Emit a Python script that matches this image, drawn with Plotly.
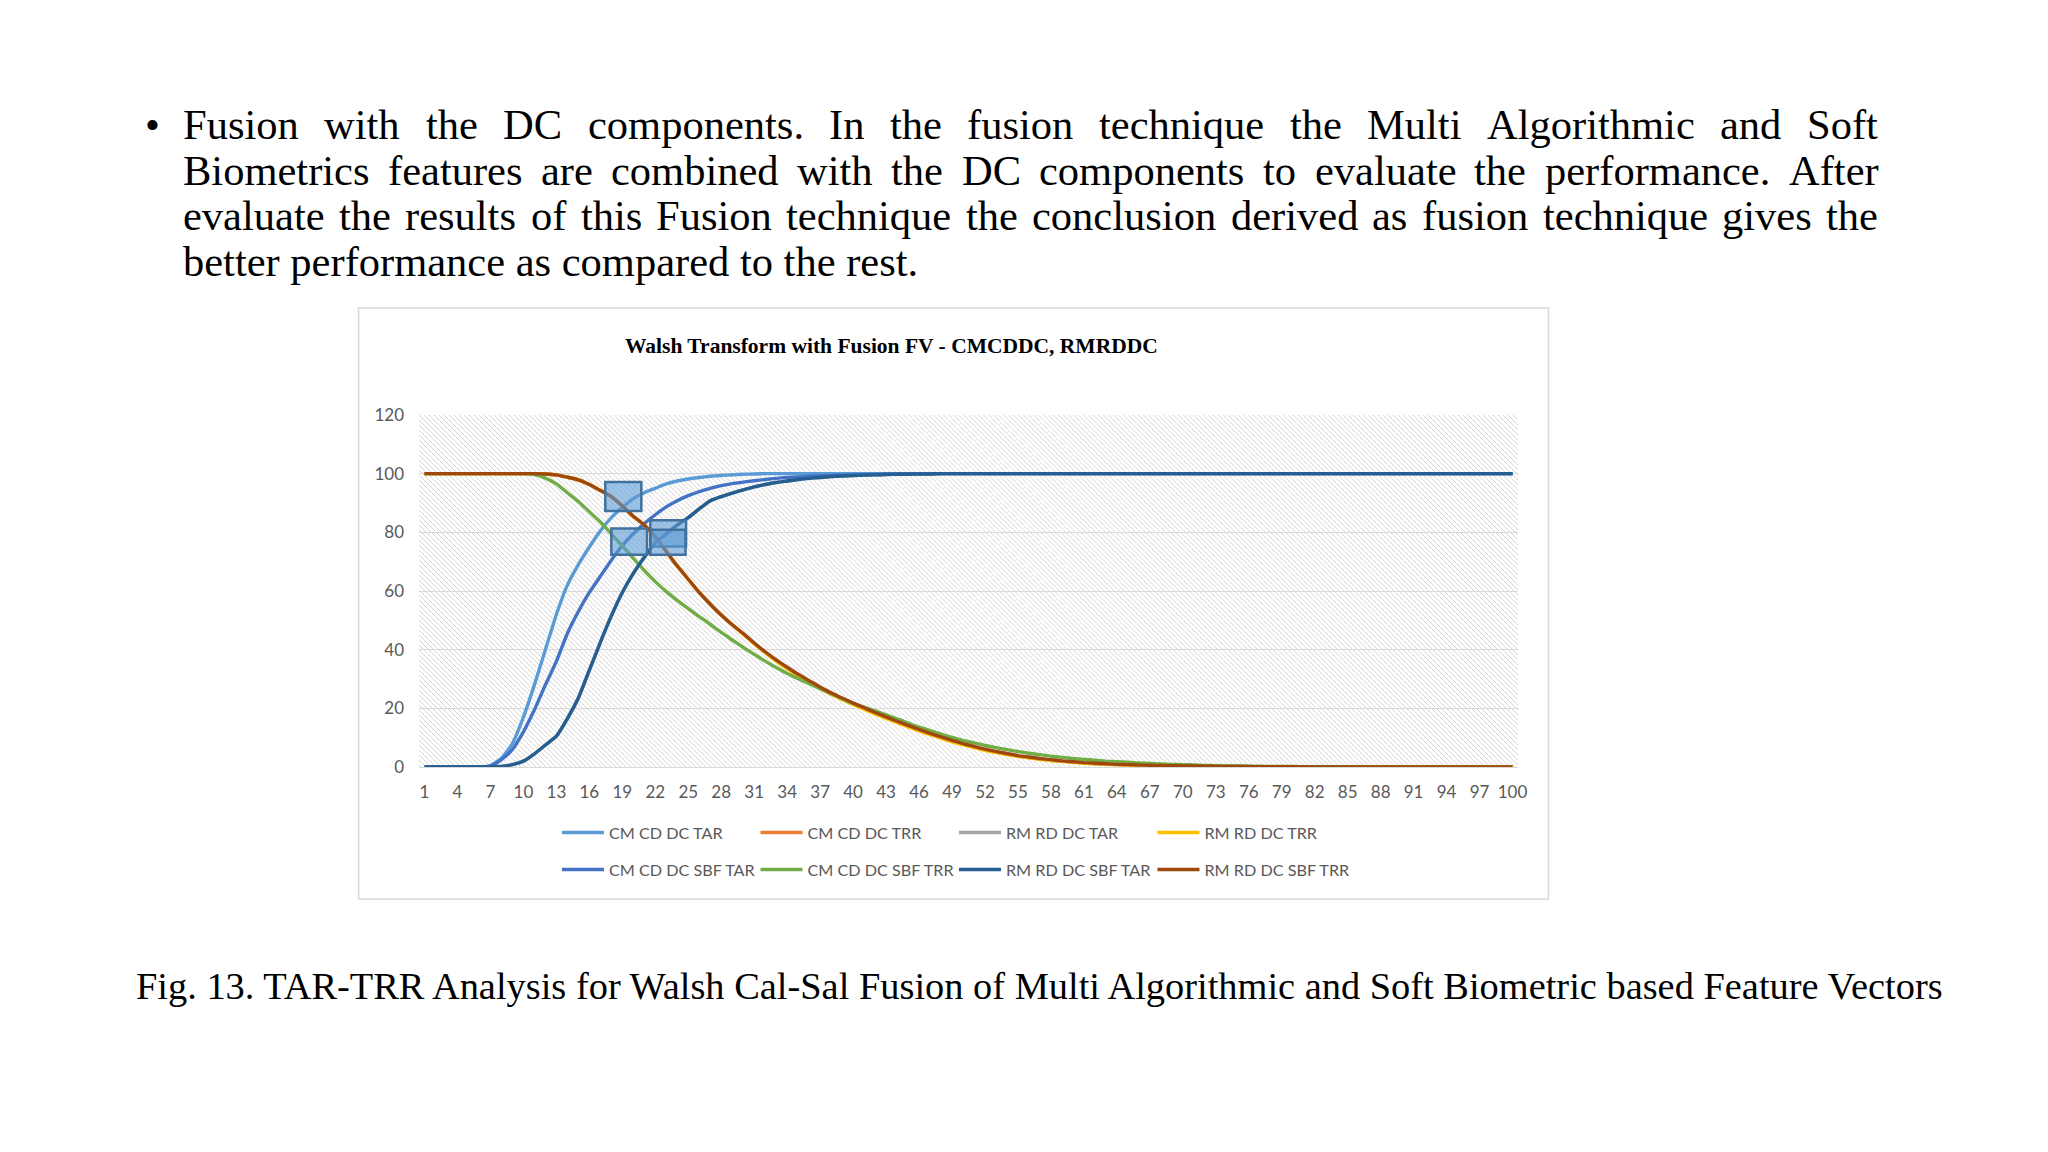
import base64
import plotly.graph_objects as go

# ---------------- DATA ----------------
categories = list(range(1, 101))

tick_values = [1, 4, 7, 10, 13, 16, 19, 22, 25, 28, 31, 34, 37, 40, 43, 46, 49, 52, 55,
               58, 61, 64, 67, 70, 73, 76, 79, 82, 85, 88, 91, 94, 97, 100]
tick_labels = ["1", "4", "7", "10", "13", "16", "19", "22", "25", "28", "31", "34", "37", "40",
               "43", "46", "49", "52", "55", "58", "61", "64", "67", "70", "73", "76", "79",
               "82", "85", "88", "91", "94", "97", "100"]

series_names = ["CM CD DC TAR", "CM CD DC TRR", "RM RD DC TAR", "RM RD DC TRR",
                "CM CD DC SBF TAR", "CM CD DC SBF TRR", "RM RD DC SBF TAR", "RM RD DC SBF TRR"]

cm_cd_dc_tar = [
    0, 0, 0, 0, 0, 0, 0.5, 3, 8, 17,
    28, 40, 52, 62, 69, 75, 80.5, 85, 88.5, 91.5,
    93.5, 95, 96.5, 97.5, 98.2, 98.7, 99.1, 99.4, 99.6, 99.8,
    99.9, 100, 100, 100, 100, 100, 100, 100, 100, 100,
    100, 100, 100, 100, 100, 100, 100, 100, 100, 100,
    100, 100, 100, 100, 100, 100, 100, 100, 100, 100,
    100, 100, 100, 100, 100, 100, 100, 100, 100, 100,
    100, 100, 100, 100, 100, 100, 100, 100, 100, 100,
    100, 100, 100, 100, 100, 100, 100, 100, 100, 100,
    100, 100, 100, 100, 100, 100, 100, 100, 100, 100]

cm_cd_dc_trr = [
    100, 100, 100, 100, 100, 100, 100, 100, 100, 100,
    100, 99.9, 99.6, 98.8, 97.9, 96.3, 94.3, 92.2, 89, 85.5,
    82.5, 78.5, 73.5, 68.5, 64, 59.5, 55.5, 51.8, 48.5, 45.4,
    42.1, 39.1, 36.3, 33.7, 31.3, 29.1, 27, 25, 23.2, 21.5,
    19.9, 18.3, 16.8, 15.3, 13.9, 12.5, 11.2, 10, 8.8, 7.8,
    6.8, 5.9, 5.1, 4.4, 3.7, 3.2, 2.7, 2.3, 2, 1.7,
    1.4, 1.2, 1, 0.85, 0.75, 0.65, 0.55, 0.45, 0.4, 0.35,
    0.3, 0.25, 0.2, 0.18, 0.15, 0.12, 0.1, 0.08, 0.07, 0.06,
    0.05, 0.04, 0.03, 0.02, 0.02, 0.01, 0.01, 0, 0, 0,
    0, 0, 0, 0, 0, 0, 0, 0, 0, 0]

rm_rd_dc_tar = [
    0, 0, 0, 0, 0, 0, 0, 0.2, 0.8, 2,
    4.5, 7.5, 10.5, 16.5, 23.5, 33, 42.5, 51.5, 59.5, 66,
    71.5, 76.5, 79.5, 82.5, 85, 88, 90.8, 92.2, 93.4, 94.5,
    95.5, 96.3, 97, 97.5, 98, 98.4, 98.7, 99, 99.2, 99.4,
    99.5, 99.6, 99.7, 99.8, 99.8, 99.9, 99.9, 100, 100, 100,
    100, 100, 100, 100, 100, 100, 100, 100, 100, 100,
    100, 100, 100, 100, 100, 100, 100, 100, 100, 100,
    100, 100, 100, 100, 100, 100, 100, 100, 100, 100,
    100, 100, 100, 100, 100, 100, 100, 100, 100, 100,
    100, 100, 100, 100, 100, 100, 100, 100, 100, 100]

rm_rd_dc_trr = [
    100, 100, 100, 100, 100, 100, 100, 100, 100, 100,
    100, 99.9, 99.6, 98.8, 97.9, 96.3, 94.3, 92.2, 89, 85.5,
    82.5, 78.5, 73.5, 68.5, 64, 59.5, 55.5, 51.8, 48.5, 45.3,
    42, 39, 36.1, 33.5, 31.1, 28.9, 26.8, 24.8, 23, 21.3,
    19.7, 18.1, 16.6, 15.1, 13.7, 12.3, 11, 9.8, 8.6, 7.6,
    6.6, 5.7, 4.9, 4.2, 3.6, 3.1, 2.6, 2.2, 1.9, 1.6,
    1.3, 1.1, 0.9, 0.8, 0.7, 0.6, 0.5, 0.4, 0.35, 0.3,
    0.25, 0.2, 0.18, 0.15, 0.12, 0.1, 0.08, 0.07, 0.06, 0.05,
    0.04, 0.03, 0.02, 0.02, 0.01, 0.01, 0, 0, 0, 0,
    0, 0, 0, 0, 0, 0, 0, 0, 0, 0]

cm_cd_dc_sbf_tar = [
    0, 0, 0, 0, 0, 0, 0.3, 2.5, 6, 12,
    19.5, 28, 36, 45.5, 53, 59.5, 65, 70.5, 75.5, 79.5,
    83, 86, 88.7, 90.8, 92.5, 93.9, 95, 95.9, 96.6, 97.1,
    97.6, 98, 98.4, 98.7, 98.9, 99.1, 99.3, 99.4, 99.5, 99.6,
    99.7, 99.8, 99.9, 99.9, 100, 100, 100, 100, 100, 100,
    100, 100, 100, 100, 100, 100, 100, 100, 100, 100,
    100, 100, 100, 100, 100, 100, 100, 100, 100, 100,
    100, 100, 100, 100, 100, 100, 100, 100, 100, 100,
    100, 100, 100, 100, 100, 100, 100, 100, 100, 100,
    100, 100, 100, 100, 100, 100, 100, 100, 100, 100]

cm_cd_dc_sbf_trr = [
    100, 100, 100, 100, 100, 100, 100, 100, 100, 100,
    99.7, 98.5, 96.5, 93.5, 90.5, 87, 83.5, 79.5, 75.4, 71.1,
    67, 63.2, 59.8, 56.8, 54, 51.3, 48.6, 45.9, 43.3, 40.8,
    38.4, 36.1, 33.9, 31.9, 30.1, 28.4, 26.7, 25, 23.3, 21.7,
    20.4, 19.1, 17.8, 16.4, 15, 13.6, 12.4, 11.2, 10.1, 9.1,
    8.2, 7.4, 6.6, 5.9, 5.3, 4.7, 4.2, 3.7, 3.3, 2.9,
    2.6, 2.3, 2, 1.8, 1.6, 1.4, 1.2, 1.05, 0.9, 0.8,
    0.7, 0.55, 0.45, 0.4, 0.35, 0.3, 0.25, 0.2, 0.18, 0.15,
    0.12, 0.1, 0.08, 0.06, 0.05, 0.04, 0.03, 0.02, 0.02, 0.01,
    0, 0, 0, 0, 0, 0, 0, 0, 0, 0]

rm_rd_dc_sbf_tar = [
    0, 0, 0, 0, 0, 0, 0, 0.2, 0.8, 2,
    4.5, 7.5, 10.5, 16.5, 23.5, 33, 42.5, 51.5, 59.5, 66,
    71.5, 76.5, 79.5, 82.5, 85, 88, 90.8, 92.2, 93.4, 94.5,
    95.5, 96.3, 97, 97.5, 98, 98.4, 98.7, 99, 99.2, 99.4,
    99.5, 99.6, 99.7, 99.8, 99.8, 99.9, 99.9, 100, 100, 100,
    100, 100, 100, 100, 100, 100, 100, 100, 100, 100,
    100, 100, 100, 100, 100, 100, 100, 100, 100, 100,
    100, 100, 100, 100, 100, 100, 100, 100, 100, 100,
    100, 100, 100, 100, 100, 100, 100, 100, 100, 100,
    100, 100, 100, 100, 100, 100, 100, 100, 100, 100]

rm_rd_dc_sbf_trr = [
    100, 100, 100, 100, 100, 100, 100, 100, 100, 100,
    100, 99.9, 99.6, 98.8, 97.9, 96.3, 94.3, 92.2, 89, 85.5,
    82.5, 78.5, 73.5, 68.5, 64, 59.5, 55.5, 51.8, 48.5, 45.5,
    42.3, 39.3, 36.5, 34, 31.6, 29.4, 27.3, 25.3, 23.5, 21.8,
    20.2, 18.6, 17.1, 15.6, 14.2, 12.8, 11.5, 10.3, 9.1, 8,
    7, 6.1, 5.3, 4.6, 3.9, 3.4, 2.9, 2.5, 2.1, 1.8,
    1.5, 1.3, 1.1, 0.9, 0.8, 0.7, 0.6, 0.5, 0.45, 0.4,
    0.35, 0.3, 0.25, 0.2, 0.2, 0.15, 0.12, 0.1, 0.1, 0.08,
    0.06, 0.05, 0.04, 0.03, 0.02, 0.02, 0.01, 0.01, 0, 0,
    0, 0, 0, 0, 0, 0, 0, 0, 0, 0]

series_values = [cm_cd_dc_tar, cm_cd_dc_trr, rm_rd_dc_tar, rm_rd_dc_trr,
                 cm_cd_dc_sbf_tar, cm_cd_dc_sbf_trr, rm_rd_dc_sbf_tar, rm_rd_dc_sbf_trr]

chart_title = "Walsh Transform with Fusion FV - CMCDDC, RMRDDC"
paragraph_lines = [
    "Fusion with the DC components. In the fusion technique the Multi Algorithmic and Soft",
    "Biometrics features are combined with the DC components to evaluate the performance. After",
    "evaluate the results of this Fusion technique the conclusion derived as fusion technique gives the",
    "better performance as compared to the rest.",
]
caption = ("Fig. 13. TAR-TRR Analysis for Walsh Cal-Sal Fusion of Multi Algorithmic "
           "and Soft Biometric based Feature Vectors")

# ---------------- STYLE / LAYOUT ----------------
colors = ["#5B9BD5", "#ED7D31", "#A5A5A5", "#FFC000",
          "#4472C4", "#70AD47", "#255E91", "#9E480E"]

W, H = 2048, 1152
PL, PR, PT, PB = 418.5, 1518.5, 415.0, 767.0   # plot area in pixels


def px_x(X):
    return (X - PL) / (PR - PL)


def px_y(Y):
    return (PB - Y) / (PB - PT)


SERIF = "Liberation Serif, Times New Roman, serif"
SANS = "Lato, Calibri, sans-serif"

# Times metrics (per 1000 em) for justification of the paragraph
TW = {' ': 250, ',': 250, '.': 250, '-': 333,
      'A': 722, 'B': 667, 'C': 667, 'D': 722, 'F': 556, 'I': 333, 'M': 889, 'S': 556,
      'a': 444, 'b': 500, 'c': 444, 'd': 500, 'e': 444, 'f': 333, 'g': 500, 'h': 500,
      'i': 278, 'l': 278, 'm': 778, 'n': 500, 'o': 500, 'p': 500, 'q': 500, 'r': 333,
      's': 389, 't': 278, 'u': 500, 'v': 500, 'w': 722, 'y': 500}


def word_width(w, fs):
    return sum(TW.get(c, 500) for c in w) / 1000.0 * fs


fig = go.Figure()

for i, (name, vals) in enumerate(zip(series_names, series_values)):
    fig.add_trace(go.Scatter(
        x=categories, y=vals, name=name, mode="lines",
        line=dict(color=colors[i], width=3.4, shape="spline", smoothing=0.5),
        legend="legend" if i < 4 else "legend2",
        hoverinfo="skip",
    ))

# hatch background for plot area
svg = ('<svg xmlns="http://www.w3.org/2000/svg" width="1100" height="352">'
       '<defs><pattern id="h" width="5" height="5" patternUnits="userSpaceOnUse">'
       '<rect width="5" height="5" fill="#ffffff"/>'
       '<path d="M-1,-1 L6,6 M-1,4 L1,6 M4,-1 L6,1" stroke="#d4d4d4" stroke-width="1"/>'
       '</pattern></defs><rect width="1100" height="352" fill="url(#h)"/></svg>')
svg_uri = "data:image/svg+xml;base64," + base64.b64encode(svg.encode()).decode()

annotations = []
# chart title
annotations.append(dict(text="<b>" + chart_title + "</b>", xref="paper", yref="paper",
                        x=px_x(891.6), y=px_y(346), xanchor="center", yanchor="middle",
                        showarrow=False, font=dict(family=SERIF, size=21.5, color="#000000")))

# paragraph (justified lines)
PFS = 42.5
left, right = 181.5, 1878
line_y = [124.4, 170.1, 215.8, 261.5]
annotations.append(dict(text="•", xref="paper", yref="paper", x=px_x(151.5), y=px_y(line_y[0]),
                        xanchor="center", yanchor="middle", showarrow=False,
                        font=dict(family=SERIF, size=PFS, color="#000000")))
for li, line in enumerate(paragraph_lines):
    if li < 3:
        words = line.split(" ")
        widths = [word_width(w, PFS) for w in words]
        gap = (right - left - sum(widths)) / (len(words) - 1)
        xpos = left
        for w, ww in zip(words, widths):
            annotations.append(dict(text=w, xref="paper", yref="paper", x=px_x(xpos),
                                    y=px_y(line_y[li]), xanchor="left", yanchor="middle",
                                    showarrow=False, borderpad=0,
                                    font=dict(family=SERIF, size=PFS, color="#000000")))
            xpos += ww + gap
    else:
        annotations.append(dict(text=line, xref="paper", yref="paper", x=px_x(left),
                                y=px_y(line_y[li]), xanchor="left", yanchor="middle",
                                showarrow=False, borderpad=0,
                                font=dict(family=SERIF, size=PFS, color="#000000")))

# caption
annotations.append(dict(text=caption, xref="paper", yref="paper", x=px_x(1039.5), y=px_y(986),
                        xanchor="center", yanchor="middle", showarrow=False,
                        font=dict(family=SERIF, size=38.4, color="#000000")))

shapes = [
    # chart frame
    dict(type="rect", xref="paper", yref="paper",
         x0=px_x(358), x1=px_x(1549), y0=px_y(899), y1=px_y(308),
         line=dict(color="#d9d9d9", width=1.5), fillcolor="rgba(0,0,0,0)", layer="below"),
]
box_style = dict(type="rect", xref="x", yref="y", fillcolor="rgba(91,155,213,0.6)",
                 line=dict(color="#41719C", width=2.5), layer="above")
for (bx0, bx1, by0, by1) in [(17.45, 20.73, 87.3, 97.2), (18.0, 21.25, 72.4, 81.3),
                             (21.55, 24.8, 75.2, 84.1), (21.55, 24.75, 72.4, 80.9)]:
    s = dict(box_style)
    s.update(x0=bx0, x1=bx1, y0=by0, y1=by1)
    shapes.append(s)

legend_common = dict(orientation="h", xanchor="left", yanchor="middle",
                     entrywidth=141.5, entrywidthmode="pixels", itemwidth=42,
                     font=dict(family=SANS, size=16.2, color="#595959"),
                     bgcolor="rgba(0,0,0,0)", borderwidth=0, traceorder="normal",
                     itemclick=False, itemdoubleclick=False)
leg1 = dict(legend_common, x=px_x(556.6), y=px_y(833))
leg2 = dict(legend_common, x=px_x(556.6), y=px_y(870))

fig.update_layout(
    width=W, height=H,
    margin=dict(l=PL, r=W - PR, t=PT, b=H - PB, autoexpand=False),
    paper_bgcolor="#ffffff", plot_bgcolor="rgba(0,0,0,0)",
    showlegend=True, legend=leg1, legend2=leg2,
    annotations=annotations, shapes=shapes,
    images=[dict(source=svg_uri, xref="paper", yref="paper", x=0, y=1, sizex=1, sizey=1,
                 sizing="stretch", xanchor="left", yanchor="top", layer="below")],
    xaxis=dict(range=[0.5, 100.5], tickmode="array", tickvals=tick_values, ticktext=tick_labels,
               showgrid=False, zeroline=False, showline=True, linecolor="#d9d9d9", linewidth=1,
               ticks="", ticklabelstandoff=10, tickangle=0,
               tickfont=dict(family=SANS, size=17, color="#595959"), fixedrange=True),
    yaxis=dict(range=[0, 120], tickmode="linear", tick0=0, dtick=20,
               showgrid=True, gridcolor="#d9d9d9", gridwidth=1, zeroline=False, showline=False,
               ticks="", ticklabelstandoff=14,
               tickfont=dict(family=SANS, size=17, color="#595959"), fixedrange=True),
)

fig.write_html("out.html", config={"displayModeBar": False},
               post_script="document.body.style.margin='0px';")
